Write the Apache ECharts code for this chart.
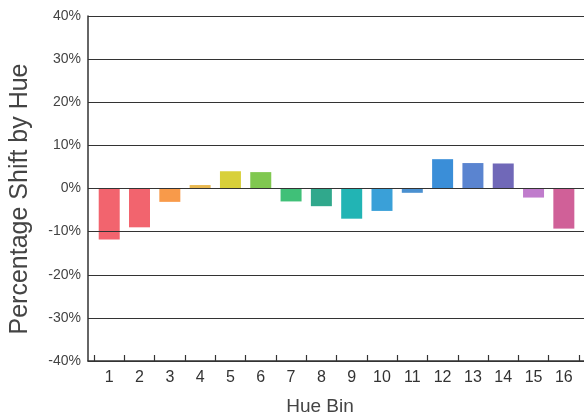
<!DOCTYPE html>
<html>
<head>
<meta charset="utf-8">
<script src="https://cdn.jsdelivr.net/npm/echarts@6/dist/echarts.min.js"></script>
<style>html,body{margin:0;padding:0;background:#fff;}#c{width:584px;height:420px;}</style>
</head>
<body>
<div id="c"></div>
<script>
var categories = [1,2,3,4,5,6,7,8,9,10,11,12,13,14,15,16];
var shiftValues = [-11.8,-9.0,-3.1,0.8,4.0,3.8,-3.0,-4.1,-7.0,-5.2,-1.0,6.8,5.9,5.8,-2.1,-9.3];
var barColors = ['#f2646e','#f2646e','#f89a4a','#e8b850','#d8d03a','#80c850','#40c078','#30a88c','#22b4b4','#3aa0d8','#4a90d0','#3a8ed8','#5a84d0','#7068b8','#c07ccc','#d06098'];
var yTicks = [-40,-30,-20,-10,0,10,20,30,40];
var yTitle = 'Percentage Shift by Hue';
var xTitle = 'Hue Bin';

var chart = echarts.init(document.getElementById('c'));
var font = '"Liberation Sans", Arial, sans-serif';
var tickVals = [categories[0]-0.5].concat(categories.map(function(c){return c+0.5;}));
chart.setOption({
  animation:false,
  grid:{left:88,right:0,top:16,bottom:59},
  xAxis:{
    type:'value', min:0.3, max:16.665,
    axisLine:{show:true,onZero:false,lineStyle:{color:'#333',width:1.5}},
    axisTick:{show:true,inside:true,length:6,lineStyle:{color:'#333',width:1.2},customValues:tickVals},
    axisLabel:{color:'#333',fontFamily:font,fontSize:16,margin:9,customValues:categories,formatter:function(v){return String(v);}},
    splitLine:{show:false}
  },
  yAxis:{
    type:'value', min:yTicks[0], max:yTicks[yTicks.length-1], interval:10,
    axisLine:{show:true,lineStyle:{color:'#333',width:1.5}},
    axisTick:{show:false},
    axisLabel:{color:'#444',fontFamily:font,fontSize:14,margin:7,formatter:function(v){return v+'%';}},
    splitLine:{show:true,lineStyle:{color:'#333',width:1}},
    z:3
  },
  graphic:[
    {type:'text',x:20,y:199,rotation:Math.PI/2,style:{text:yTitle,fill:'#444',font:'25px '+font,textAlign:'center',textVerticalAlign:'middle'}},
    {type:'text',x:320,y:407,style:{text:xTitle,fill:'#444',font:'19px '+font,textAlign:'center',textVerticalAlign:'middle'}}
  ],
  series:[{
    type:'bar',
    barWidth:21,
    data:categories.map(function(c,i){return {value:[c,shiftValues[i]],itemStyle:{color:barColors[i]}};}),
    z:2
  }]
});
</script>
</body>
</html>
